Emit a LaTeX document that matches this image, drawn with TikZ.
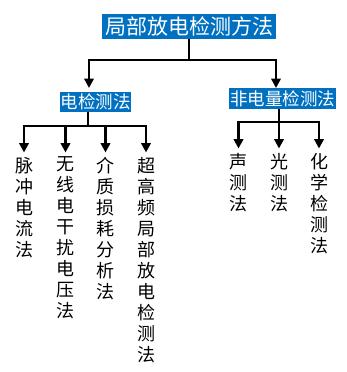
\documentclass[tikz,border=0pt]{standalone}
\usepackage{fontspec}
\setmainfont{Noto Sans CJK SC}
\usetikzlibrary{arrows.meta}
\definecolor{boxblue}{HTML}{0070C0}
\begin{document}
\begin{tikzpicture}[x=1pt,y=-1pt,
  tip/.tip={Triangle[length=9.5pt,width=9.5pt]},
  line/.style={line width=2.7pt},
  conn/.style={line, -tip},
  conn2/.style={line, tip-tip},
  bluebox/.style={fill=boxblue, text=white, inner sep=0pt},
  leaf/.style={inner sep=0pt, outer ysep=4.5pt, align=center, anchor=north,
    font=\fontsize{18pt}{21pt}\selectfont}
]
\useasboundingbox (0,0) rectangle (347,372);
% header boxes
\node[bluebox, minimum width=174pt, minimum height=25pt,
  font=\fontsize{21pt}{24pt}\selectfont] (top) at (189,26.5) {局部放电检测方法};
\node[bluebox, minimum width=71pt, minimum height=20pt,
  font=\fontsize{17.5pt}{20pt}\selectfont] (L) at (95.5,102) {电检测法};
\node[bluebox, minimum width=107pt, minimum height=21pt,
  font=\fontsize{17.5pt}{20pt}\selectfont] (R) at (282.5,98.5) {非电量检测法};
% junctions
\coordinate (j1) at (189,60);
\coordinate (aL) at (89,88);
\coordinate (aR) at (276,88);
\coordinate (j2) at (88,126);
\coordinate (j3) at (279,122);
% leaves
\node[leaf] (l1) at (24,152.5) {脉\\冲\\电\\流\\法};
\node[leaf] (l2) at (65.5,152.5) {无\\线\\电\\干\\扰\\电\\压\\法};
\node[leaf] (l3) at (105.5,152.5) {介\\质\\损\\耗\\分\\析\\法};
\node[leaf] (l4) at (146,152.5) {超\\高\\频\\局\\部\\放\\电\\检\\测\\法};
\node[leaf] (r1) at (238.5,148.5) {声\\测\\法};
\node[leaf] (r2) at (279,148.5) {光\\测\\法};
\node[leaf] (r3) at (319,148.5) {化\\学\\检\\测\\法};
% connectors
\draw[line] (top.south) -- (j1);
\draw[conn2] (aL) |- (j1) -| (aR);
\draw[line] (L.south -| j2) -- (j2);
\draw[conn2] (l1.north) |- (j2) -| (l4.north);
\draw[conn] (l2.north |- j2) -- (l2.north);
\draw[conn] (l3.north |- j2) -- (l3.north);
\draw[line] (R.south -| j3) -- (j3);
\draw[conn2] (r1.north) |- (j3) -| (r3.north);
\draw[conn] (j3) -- (r2.north);
\end{tikzpicture}
\end{document}
